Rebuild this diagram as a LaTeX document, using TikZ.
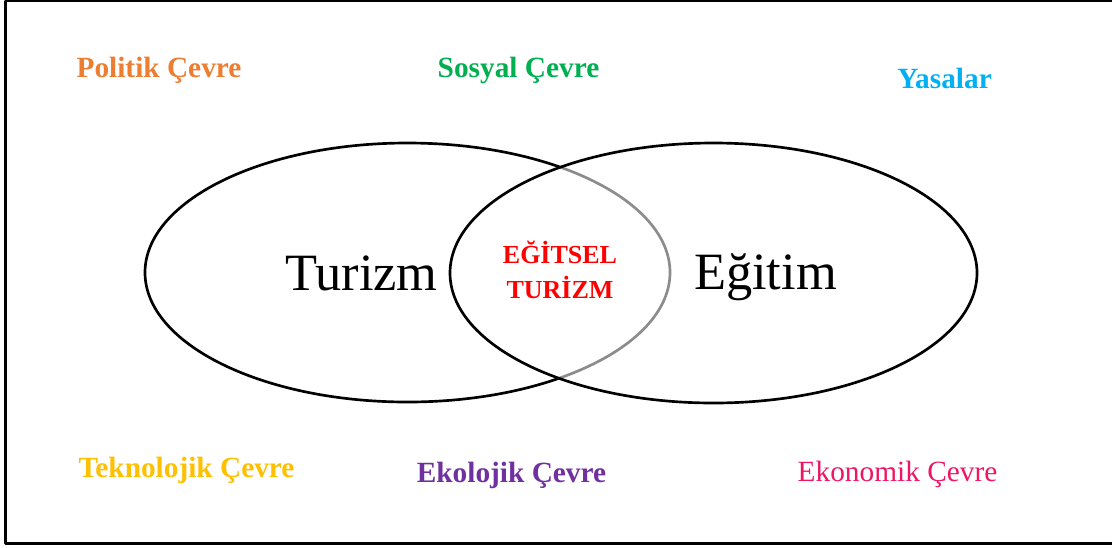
\documentclass[tikz,border=0pt]{standalone}
\usepackage{fontspec}
\setmainfont{Liberation Serif}
\definecolor{Pcol}{RGB}{237,125,49}
\definecolor{Scol}{RGB}{0,176,80}
\definecolor{Ycol}{RGB}{0,176,240}
\definecolor{Tcol}{RGB}{255,192,0}
\definecolor{Ecol}{RGB}{112,48,160}
\definecolor{Kcol}{RGB}{240,20,100}
\definecolor{Rcol}{RGB}{255,0,0}
\tikzset{
  lbl/.style={anchor=base,inner sep=0pt,font=\bfseries\fontsize{22}{24}\selectfont},
  big/.style={anchor=base,inner sep=0pt,font=\fontsize{39.3}{42}\selectfont},
  mid/.style={anchor=base,inner sep=0pt,text=Rcol,font=\bfseries\fontsize{19.5}{22}\selectfont}
}

\begin{document}
\begin{tikzpicture}[x=0.75pt,y=-0.75pt,line cap=round,line join=round]
\path[use as bounding box] (0,0) rectangle (1112,547);
\draw[line width=1.6pt] (1120,1) -- (5.5,1) -- (5.5,543.5) -- (1120,543.5);
% circles
\draw[line width=2pt] (407.5,272.5) ellipse[x radius=262.5,y radius=129.5];
\fill[white,opacity=0.55] (713.5,273) ellipse[x radius=263.5,y radius=130];
\draw[line width=2pt] (713.5,273) ellipse[x radius=263.5,y radius=130];
% texts
\node[big] (tur) at (361.5,290) {Turizm};
\node[big] (egt) at (765.5,289) {Eğitim};
\node[mid] (e1) at (560,263) {EĞİTSEL};
\node[mid] (e2) at (560,298) {TURİZM};
\node[lbl,text=Pcol] (pol) at (159,77) {Politik Çevre};
\node[lbl,text=Scol] (sos) at (518.5,77) {Sosyal Çevre};
\node[lbl,text=Ycol] (yas) at (944.5,88) {Yasalar};
\node[lbl,text=Tcol] (tek) at (186.5,477) {Teknolojik Çevre};
\node[lbl,text=Ecol] (eko) at (511.5,482) {Ekolojik Çevre};
\node[lbl,text=Kcol,font=\fontsize{22}{24}\selectfont] (ekn) at (897.5,481) {Ekonomik Çevre};
\end{tikzpicture}
\end{document}
